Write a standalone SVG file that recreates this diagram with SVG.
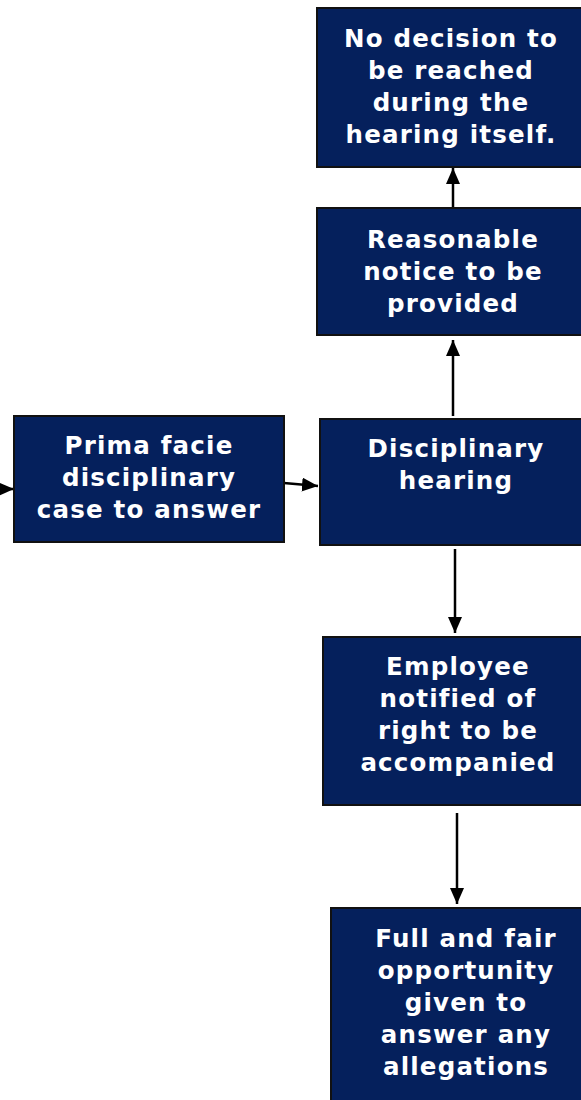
<svg xmlns="http://www.w3.org/2000/svg" width="581" height="1100" viewBox="0 0 581 1100">
<style>
.box{fill:#05205c;stroke:#111;stroke-width:2}
.t{font-family:"DejaVu Sans",Verdana,sans-serif;font-weight:bold;font-size:24.5px;letter-spacing:1.2px;fill:#fff;text-anchor:middle}
.c{stroke:#000;stroke-width:2.5;fill:none;marker-end:url(#ah)}
</style>
<defs>
<marker id="ah" viewBox="0 0 16 14" refX="16" refY="7" markerWidth="16" markerHeight="14" orient="auto" markerUnits="userSpaceOnUse">
<path d="M0,0 L16,7 L0,14 z" fill="#000"/>
</marker>
</defs>
<rect width="581" height="1100" fill="#fff"/>
<g id="connectors">
<line class="c" x1="-5" y1="489" x2="14" y2="489"/>
<line class="c" x1="284" y1="483" x2="318" y2="486"/>
<line class="c" x1="453" y1="416" x2="453" y2="340"/>
<line class="c" x1="453" y1="208" x2="453" y2="168"/>
<line class="c" x1="455" y1="549" x2="455" y2="633"/>
<line class="c" x1="457" y1="813" x2="457" y2="904"/>
</g>
<g id="n_prima">
<rect class="box" x="14" y="416" width="270" height="126"/>
<text class="t" x="149" y="454">Prima facie</text>
<text class="t" x="149" y="486">disciplinary</text>
<text class="t" x="149" y="518">case to answer</text>
</g>
<g id="n_hearing">
<rect class="box" x="320" y="419" width="280" height="126"/>
<text class="t" x="456" y="457">Disciplinary</text>
<text class="t" x="456" y="489">hearing</text>
</g>
<g id="n_notice">
<rect class="box" x="317" y="208" width="283" height="127"/>
<text class="t" x="453" y="248">Reasonable</text>
<text class="t" x="453" y="280">notice to be</text>
<text class="t" x="453" y="312">provided</text>
</g>
<g id="n_decision">
<rect class="box" x="317" y="8" width="283" height="159"/>
<text class="t" x="451" y="47">No decision to</text>
<text class="t" x="451" y="79">be reached</text>
<text class="t" x="451" y="111">during the</text>
<text class="t" x="451" y="143">hearing itself.</text>
</g>
<g id="n_employee">
<rect class="box" x="323" y="637" width="277" height="168"/>
<text class="t" x="458" y="675">Employee</text>
<text class="t" x="458" y="707">notified of</text>
<text class="t" x="458" y="739">right to be</text>
<text class="t" x="458" y="771">accompanied</text>
</g>
<g id="n_full">
<rect class="box" x="331" y="908" width="269" height="210"/>
<text class="t" x="466" y="947">Full and fair</text>
<text class="t" x="466" y="979">opportunity</text>
<text class="t" x="466" y="1011">given to</text>
<text class="t" x="466" y="1043">answer any</text>
<text class="t" x="466" y="1075">allegations</text>
</g>
</svg>
